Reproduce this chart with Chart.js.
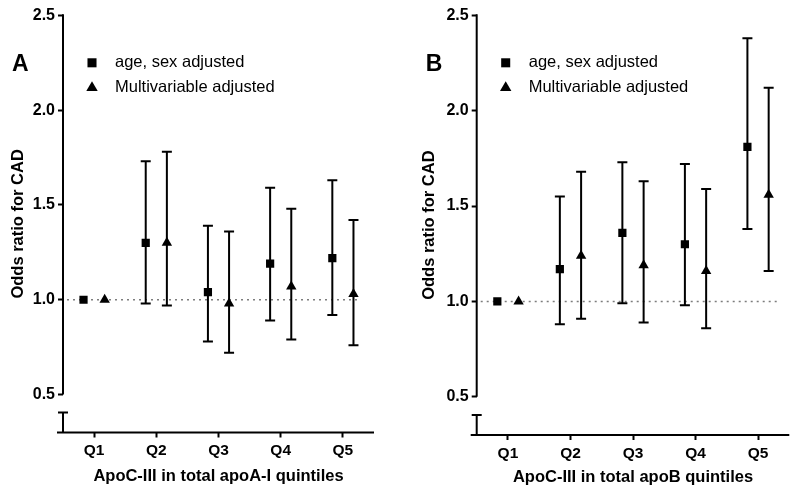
<!DOCTYPE html>
<html><head><meta charset="utf-8">
<script src="https://cdn.jsdelivr.net/npm/chart.js@4.4.1/dist/chart.umd.min.js"></script>
<style>
html,body{margin:0;padding:0;background:#fff;}
.p{position:absolute;top:0;width:400px;height:499px;}
</style></head>
<body>
<div class="p" style="left:0"><canvas id="cA"></canvas></div>
<div class="p" style="left:400px"><canvas id="cB"></canvas></div>
<script>
// ---- data ----
const categories = ['Q1', 'Q2', 'Q3', 'Q4', 'Q5'];
const seriesNames = ['age, sex adjusted', 'Multivariable adjusted'];
const yTicks = [0.5, 1.0, 1.5, 2.0, 2.5];
const yTitle = 'Odds ratio for CAD';
const panelLetters = ['A', 'B'];
const xTitles = ['ApoC-III in total apoA-I quintiles', 'ApoC-III in total apoB quintiles'];

const A_ageSex     = [1.00, 1.30, 1.04, 1.19, 1.22];
const A_ageSexLow  = [1.00, 0.98, 0.78, 0.89, 0.92];
const A_ageSexHigh = [1.00, 1.73, 1.39, 1.59, 1.63];
const A_multi      = [1.00, 1.30, 0.98, 1.07, 1.03];
const A_multiLow   = [1.00, 0.97, 0.72, 0.79, 0.76];
const A_multiHigh  = [1.00, 1.78, 1.36, 1.48, 1.42];

const B_ageSex     = [1.00, 1.17, 1.36, 1.30, 1.81];
const B_ageSexLow  = [1.00, 0.88, 0.99, 0.98, 1.38];
const B_ageSexHigh = [1.00, 1.55, 1.73, 1.72, 2.38];
const B_multi      = [1.00, 1.24, 1.19, 1.16, 1.56];
const B_multiLow   = [1.00, 0.91, 0.89, 0.86, 1.16];
const B_multiHigh  = [1.00, 1.68, 1.63, 1.59, 2.12];

const refValue = 1.0;
// ---- styling ----
const FONT = '"Liberation Sans", Arial, Helvetica, sans-serif';
Chart.defaults.font.family = FONT;
Chart.defaults.color = '#000';

function drawMarker(ctx, style, x, y, r) {
  ctx.beginPath();
  if (style === 'rect') {
    const s = r / Math.SQRT2;
    ctx.rect(x - s, y - s, 2 * s, 2 * s);
  } else {
    for (let k = 0; k < 3; k++) {
      const a = k * 2 * Math.PI / 3;
      const px = x + Math.sin(a) * r, py = y - Math.cos(a) * r;
      if (k === 0) ctx.moveTo(px, py); else ctx.lineTo(px, py);
    }
    ctx.closePath();
  }
  ctx.fill();
}

const decoPlugin = {
  id: 'deco',
  beforeDatasetsDraw(chart) {
    const {ctx, chartArea: ca, scales: {x, y}} = chart;
    const cfg = chart.options.plugins.deco;
    ctx.save();
    // dotted reference line
    ctx.strokeStyle = '#7d7d7d';
    ctx.lineWidth = 1.6;
    ctx.setLineDash([2, 4]);
    const yr = y.getPixelForValue(refValue);
    ctx.beginPath();
    ctx.moveTo(ca.left + 4, yr);
    ctx.lineTo(x.getPixelForValue(cfg.refEnd), yr);
    ctx.stroke();
    ctx.setLineDash([]);
    // error bars
    ctx.strokeStyle = '#000';
    ctx.lineWidth = 2;
    chart.data.datasets.forEach(ds => {
      ds.data.forEach(p => {
        const px = x.getPixelForValue(p.x);
        const lo = y.getPixelForValue(p.lo), hi = y.getPixelForValue(p.hi);
        if (Math.abs(lo - hi) < 1) return;
        ctx.beginPath();
        ctx.moveTo(px, lo); ctx.lineTo(px, hi);
        ctx.moveTo(px - 5, lo); ctx.lineTo(px + 5, lo);
        ctx.moveTo(px - 5, hi); ctx.lineTo(px + 5, hi);
        ctx.stroke();
      });
    });
    ctx.restore();
  },
  afterDraw(chart) {
    const {ctx, chartArea: ca, scales: {x, y}} = chart;
    const cfg = chart.options.plugins.deco;
    ctx.save();
    ctx.strokeStyle = '#000';
    ctx.lineWidth = 2;
    // y axis with break
    const yTop = y.getPixelForValue(yTicks[yTicks.length - 1]);
    const yLow = y.getPixelForValue(yTicks[0]);
    const yBrk = y.getPixelForValue(cfg.breakAt);
    ctx.beginPath();
    ctx.moveTo(ca.left, yTop - 1); ctx.lineTo(ca.left, yLow);
    ctx.moveTo(ca.left, yBrk); ctx.lineTo(ca.left, ca.bottom);
    ctx.moveTo(ca.left - 5, yBrk); ctx.lineTo(ca.left + 5, yBrk);
    // x axis
    ctx.moveTo(ca.left - 6, ca.bottom); ctx.lineTo(ca.right, ca.bottom);
    ctx.stroke();
    // legend
    ctx.fillStyle = '#000';
    ctx.font = '16.5px ' + FONT;
    ctx.textBaseline = 'middle';
    ctx.textAlign = 'left';
    chart.data.datasets.forEach((ds, i) => {
      const ly = ca.top + 47.5 + 25 * i;
      drawMarker(ctx, ds.pointStyle, ca.left + 29, ly, ds.pointStyle === 'rect' ? 6.4 : 6.6);
      ctx.fillText(ds.label, ca.left + 52, ly);
    });
    // panel letter
    ctx.font = 'bold 23px ' + FONT;
    ctx.textBaseline = 'alphabetic';
    ctx.fillText(cfg.letter, ca.left - 51, 71);
    ctx.restore();
  }
};

function makePanel(canvasId, letter, xTitle, s1, s1Lo, s1Hi, s2, s2Lo, s2Hi, L) {
  const off = 0.17;
  const mk = (v, lo, hi, d) => categories.map((c, i) => ({x: i + d, y: v[i], lo: lo[i], hi: hi[i]}));
  return new Chart(document.getElementById(canvasId), {
    type: 'scatter',
    data: {
      datasets: [
        {label: seriesNames[0], data: mk(s1, s1Lo, s1Hi, -off), pointStyle: 'rect', pointRadius: 5.8,
         backgroundColor: '#000', borderColor: '#000', borderWidth: 0},
        {label: seriesNames[1], data: mk(s2, s2Lo, s2Hi, off), pointStyle: 'triangle', pointRadius: 6,
         backgroundColor: '#000', borderColor: '#000', borderWidth: 0}
      ]
    },
    plugins: [decoPlugin],
    options: {
      responsive: true,
      maintainAspectRatio: false,
      animation: false,
      events: [],
      layout: {padding: {left: 0, right: L.padRight, top: L.padTop, bottom: 0}},
      plugins: {
        legend: {display: false},
        tooltip: {enabled: false},
        deco: {letter: letter, refEnd: L.refEnd, breakAt: 0.405}
      },
      scales: {
        x: {
          type: 'linear', min: -0.5, max: 4.5,
          afterBuildTicks: s => { s.ticks = categories.map((c, i) => ({value: i})); },
          afterFit: s => { s.height = L.xAxisHeight; },
          border: {display: false},
          grid: {drawOnChartArea: false, drawTicks: true, tickLength: 5, tickWidth: 2, tickColor: '#000'},
          ticks: {callback: (v, i) => categories[i], font: {size: 15.5, weight: 'bold'}, color: '#000',
                  padding: 4, maxRotation: 0, autoSkip: false},
          title: {display: true, text: xTitle, font: {size: 16.5, weight: 'bold'}, color: '#000',
                  padding: {top: 0, bottom: L.xTitlePad}}
        },
        y: {
          type: 'linear', min: 0.3, max: 2.5,
          afterBuildTicks: s => { s.ticks = yTicks.map(v => ({value: v})); },
          afterFit: s => { s.width = L.yAxisWidth; },
          border: {display: false},
          grid: {drawOnChartArea: false, drawTicks: true, tickLength: 5, tickWidth: 2, tickColor: '#000'},
          ticks: {callback: v => Number(v).toFixed(1), font: {size: 16, weight: 'bold'}, color: '#000', padding: 3},
          title: {display: true, text: yTitle, font: {size: 16.5, weight: 'bold'}, color: '#000',
                  padding: {top: L.yTitlePad, bottom: 0}}
        }
      }
    }
  });
}

makePanel('cA', panelLetters[0], xTitles[0], A_ageSex, A_ageSexLow, A_ageSexHigh, A_multi, A_multiLow, A_multiHigh,
  {yAxisWidth: 63, padRight: 26, padTop: 15.3, xAxisHeight: 66.5, yTitlePad: 8.6, xTitlePad: 12.4, refEnd: 4.25});
makePanel('cB', panelLetters[1], xTitles[1], B_ageSex, B_ageSexLow, B_ageSexHigh, B_multi, B_multiLow, B_multiHigh,
  {yAxisWidth: 76.7, padRight: 10.7, padTop: 15.3, xAxisHeight: 64, yTitlePad: 20, xTitlePad: 11.4, refEnd: 4.3});
</script>
</body></html>
